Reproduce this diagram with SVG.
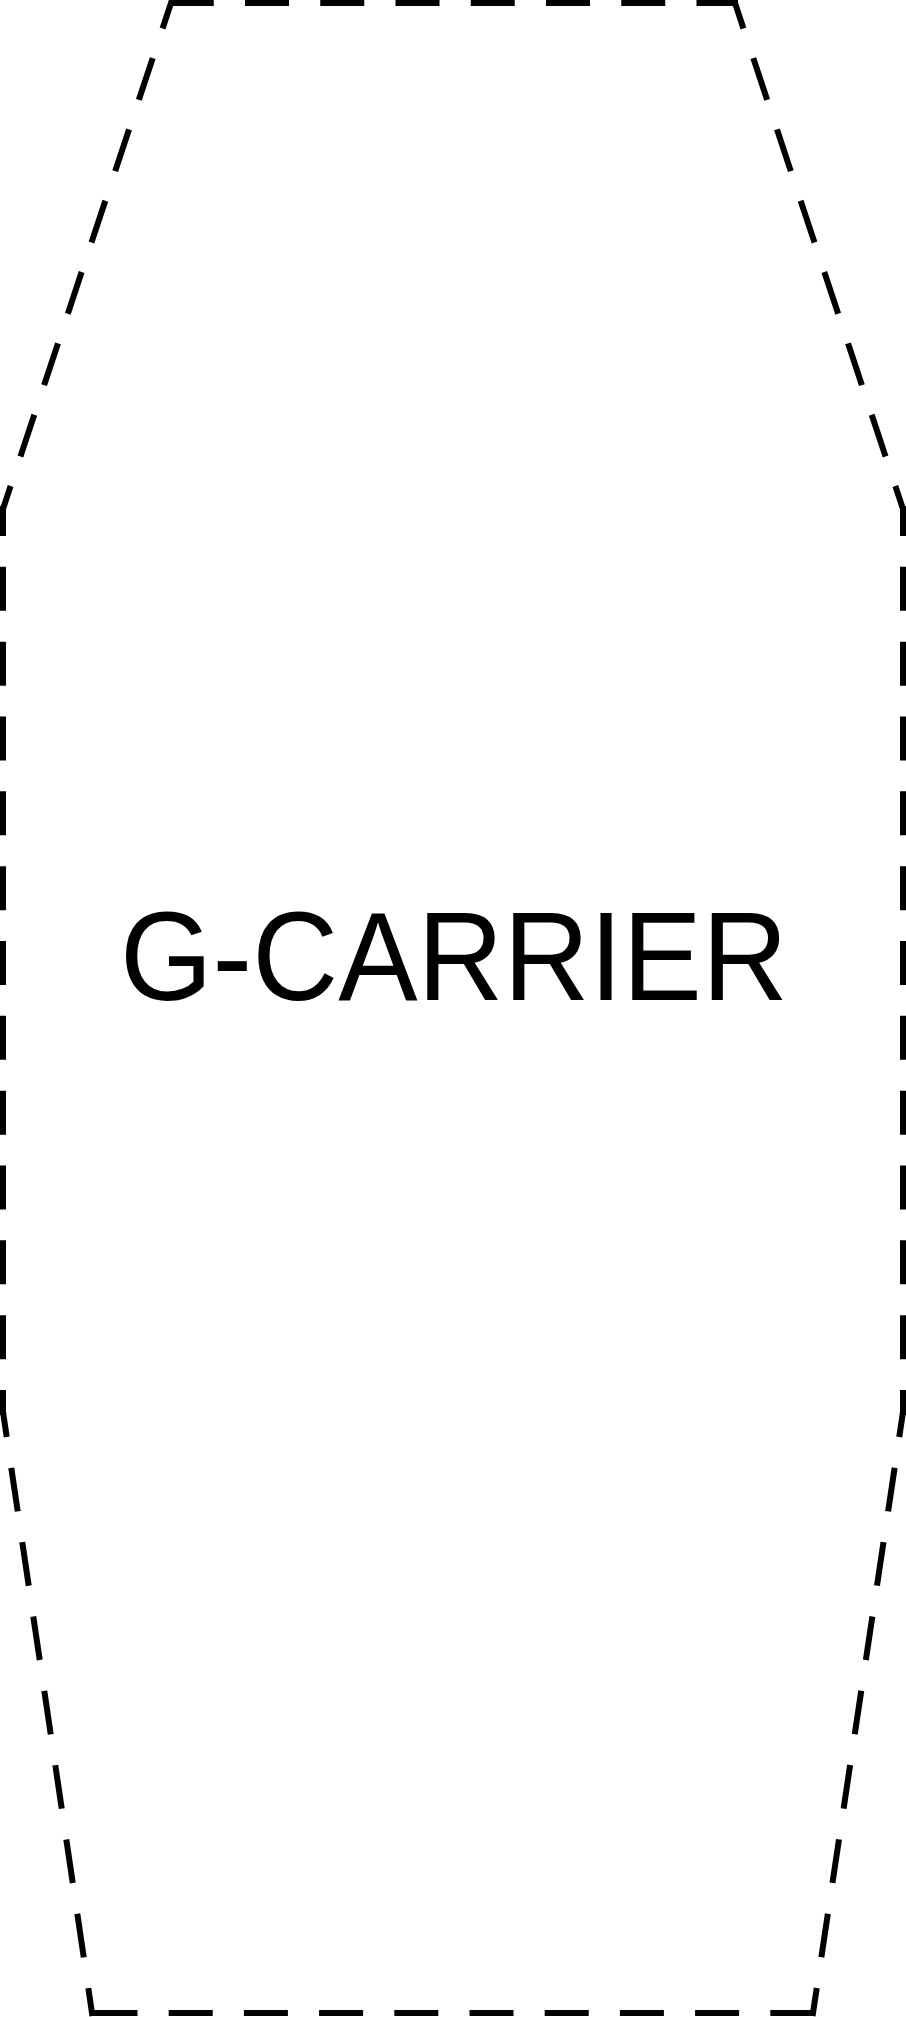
<svg xmlns="http://www.w3.org/2000/svg" width="906" height="2017" viewBox="0 0 906 2017">
<style>
.edge{fill:none;stroke:#000;stroke-width:6;stroke-linecap:square}
.label{font-family:"Liberation Sans",Arial,sans-serif;font-size:126px;fill:#000}
</style>
<rect width="906" height="2017" fill="#fff"/>
<g id="carrier">
<g id="outline">
<line class="edge" x1="171" y1="3" x2="735" y2="3" stroke-dasharray="38 37.25" stroke-dashoffset="-1.75"/>
<line class="edge" x1="735" y1="3" x2="903" y2="509" stroke-dasharray="38 37.15" stroke-dashoffset="14.1"/>
<line class="edge" x1="903" y1="509" x2="903" y2="1412" stroke-dasharray="38 36.83" stroke-dashoffset="14"/>
<line class="edge" x1="903" y1="1412" x2="813" y2="2013" stroke-dasharray="38 37.14" stroke-dashoffset="15.7"/>
<line class="edge" x1="92" y1="2013" x2="813" y2="2013" stroke-dasharray="38 37.2" stroke-dashoffset="-4.5"/>
<line class="edge" x1="3" y1="1412" x2="92" y2="2013" stroke-dasharray="38 37.14" stroke-dashoffset="15.7"/>
<line class="edge" x1="3" y1="509" x2="3" y2="1412" stroke-dasharray="38 36.83" stroke-dashoffset="14"/>
<line class="edge" x1="171" y1="3" x2="3" y2="509" stroke-dasharray="38 37.15" stroke-dashoffset="14.1"/>
</g>
<text class="label" x="120" y="1000" textLength="668" lengthAdjust="spacingAndGlyphs">G-CARRIER</text>
</g>
</svg>
